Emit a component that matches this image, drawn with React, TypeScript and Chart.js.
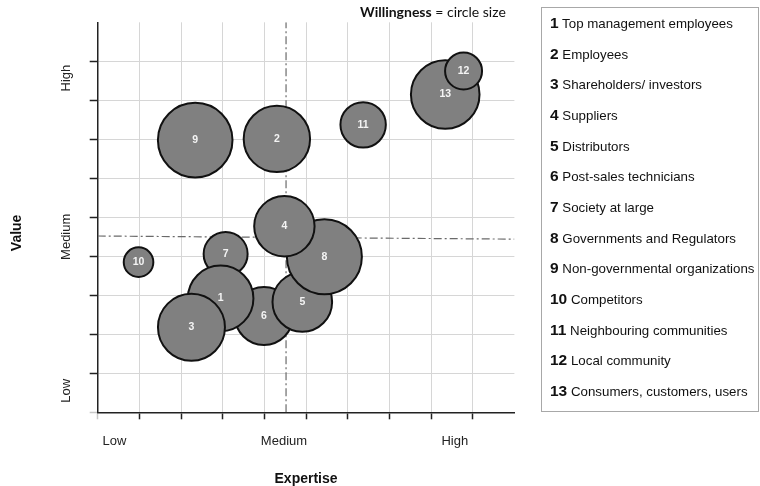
import React, { useEffect, useRef } from 'react';
import { Chart, registerables } from 'chart.js';

Chart.register(...registerables);

// ---- data ----
const stakeholders = [
  'Top management employees',
  'Employees',
  'Shareholders/ investors',
  'Suppliers',
  'Distributors',
  'Post-sales technicians',
  'Society at large',
  'Governments and Regulators',
  'Non-governmental organizations',
  'Competitors',
  'Neighbouring communities',
  'Local community',
  'Consumers, customers, users',
];
const expertise = [2.95, 4.3, 2.25, 4.48, 4.91, 3.99, 3.07, 5.44, 2.34, 0.98, 6.37, 8.78, 8.34];
const valueScore = [2.92, 7.01, 2.18, 4.77, 2.83, 2.47, 4.06, 3.99, 6.98, 3.85, 7.37, 8.75, 8.15];
// willingness = circle size (bubble radius)
const willingness = [32.8, 33.2, 33.5, 30.2, 29.8, 29, 22, 37.5, 37.3, 14.8, 22.7, 18.5, 34.3];
// order in which the circles are stacked (later = on top)
const drawOrder = [13, 12, 10, 9, 2, 11, 6, 7, 1, 3, 5, 8, 4];

const levelLabels = ['Low', 'Medium', 'High'];
const xLevelValues = [0.4, 4.47, 8.57];
const yLevelValues = [0.55, 4.5, 8.57];

const medianExpertise = 4.52;
const medianValueStart = 4.52;
const medianValueEnd = 4.44;

const FONT = '"Liberation Sans", Arial, Helvetica, sans-serif';

const labelPlugin = {
  id: 'customLabels',
  afterDatasetsDraw(chart: any) {
    const ctx = chart.ctx;
    const meta = chart.getDatasetMeta(0);
    const xs = chart.scales.x;
    const ys = chart.scales.y;
    const area = chart.chartArea;
    ctx.save();
    // bubble numbers
    ctx.fillStyle = '#f4f4f4';
    ctx.font = 'bold 10.5px ' + FONT;
    ctx.textAlign = 'center';
    ctx.textBaseline = 'middle';
    meta.data.forEach((el: any, i: number) => {
      ctx.fillText(String(drawOrder[i]), el.x, el.y);
    });
    // x level labels
    ctx.fillStyle = '#222';
    ctx.font = '13px ' + FONT;
    levelLabels.forEach((t, i) => {
      ctx.fillText(t, xs.getPixelForValue(xLevelValues[i]), area.bottom + 29);
    });
    // y level labels (rotated)
    levelLabels.forEach((t, i) => {
      ctx.save();
      ctx.translate(area.left - 31, ys.getPixelForValue(yLevelValues[i]));
      ctx.rotate(-Math.PI / 2);
      ctx.fillText(t, 0, 0);
      ctx.restore();
    });
    // axis titles
    ctx.font = 'bold 14px ' + FONT;
    ctx.fillStyle = '#111';
    ctx.fillText('Expertise', (area.left + area.right) / 2, 479);
    ctx.save();
    ctx.translate(17, ys.getPixelForValue(4.6));
    ctx.rotate(-Math.PI / 2);
    ctx.fillText('Value', 0, 0);
    ctx.restore();
    ctx.restore();
  },
};

const tickColor = (ctx: any) => {
  const v = ctx.tick ? ctx.tick.value : 0;
  if (v === 10) return 'rgba(0,0,0,0)';
  if (v === 0) return '#c8c8c8';
  return '#222';
};
const gridColor = (ctx: any) => {
  const v = ctx.tick ? ctx.tick.value : 0;
  if (v === 10) return 'rgba(0,0,0,0)';
  return '#d6d6d6';
};

export default function App() {
  const ref = useRef<HTMLCanvasElement | null>(null);

  useEffect(() => {
    if (!ref.current) return;
    const bubbles = drawOrder.map((n) => ({
      x: expertise[n - 1],
      y: valueScore[n - 1],
      r: willingness[n - 1],
    }));
    const chart = new Chart(ref.current, {
      type: 'bubble',
      data: {
        datasets: [
          {
            type: 'bubble',
            label: 'Stakeholders',
            data: bubbles,
            backgroundColor: '#808080',
            borderColor: '#111',
            borderWidth: 2,
            order: 0,
          } as any,
          {
            type: 'line',
            label: 'Median expertise',
            data: [
              { x: medianExpertise, y: 0 },
              { x: medianExpertise, y: 10 },
            ],
            borderColor: '#6a6a6a',
            borderWidth: 1.2,
            borderDash: [8, 3, 2, 3],
            pointRadius: 0,
            fill: false,
            order: 1,
          } as any,
          {
            type: 'line',
            label: 'Median value',
            data: [
              { x: 0, y: medianValueStart },
              { x: 10, y: medianValueEnd },
            ],
            borderColor: '#6a6a6a',
            borderWidth: 1.2,
            borderDash: [8, 3, 2, 3],
            pointRadius: 0,
            fill: false,
            order: 1,
          } as any,
        ],
      },
      options: {
        responsive: false,
        animation: false,
        layout: { autoPadding: false, padding: { left: 89.7, right: 245.6, top: 22.3, bottom: 66.7 } },
        plugins: { legend: { display: false }, tooltip: { enabled: false } },
        scales: {
          x: {
            type: 'linear',
            min: 0,
            max: 10,
            ticks: { display: false, stepSize: 1 },
            grid: { color: gridColor, tickColor: tickColor, tickLength: 7, lineWidth: 1, tickWidth: 1.5 },
            border: { color: '#222', width: 1.5 },
          },
          y: {
            type: 'linear',
            min: 0,
            max: 10,
            ticks: { display: false, stepSize: 1 },
            grid: { color: gridColor, tickColor: tickColor, tickLength: 8, lineWidth: 1, tickWidth: 1.5 },
            border: { color: '#222', width: 1.5 },
          },
        },
      } as any,
      plugins: [labelPlugin],
    });
    return () => chart.destroy();
  }, []);

  return (
    <div style={{ position: 'fixed', left: 0, top: 0, width: 760, height: 486, background: '#fff' }}>
      <canvas ref={ref} width={760} height={486} style={{ position: 'absolute', left: 0, top: 0, width: 760, height: 486 }} />
      <div
        style={{
          position: 'absolute',
          left: 360,
          top: 3,
          fontFamily: 'Lato, "Open Sans", sans-serif',
          fontSize: 14,
          color: '#111',
          whiteSpace: 'nowrap',
        }}
      >
        <b>Willingness</b> = circle size
      </div>
      <div
        style={{
          position: 'absolute',
          left: 541,
          top: 7,
          width: 218,
          height: 405,
          boxSizing: 'border-box',
          border: '1px solid #a8a8a8',
          paddingLeft: 8,
          fontFamily: FONT,
          fontSize: 13.3,
          color: '#111',
        }}
      >
        {stakeholders.map((s, i) => (
          <div key={s} style={{ height: 30.67, lineHeight: '30.67px', whiteSpace: 'nowrap' }}>
            <b style={{ fontSize: 15.5 }}>{i + 1}</b> {s}
          </div>
        ))}
      </div>
    </div>
  );
}
